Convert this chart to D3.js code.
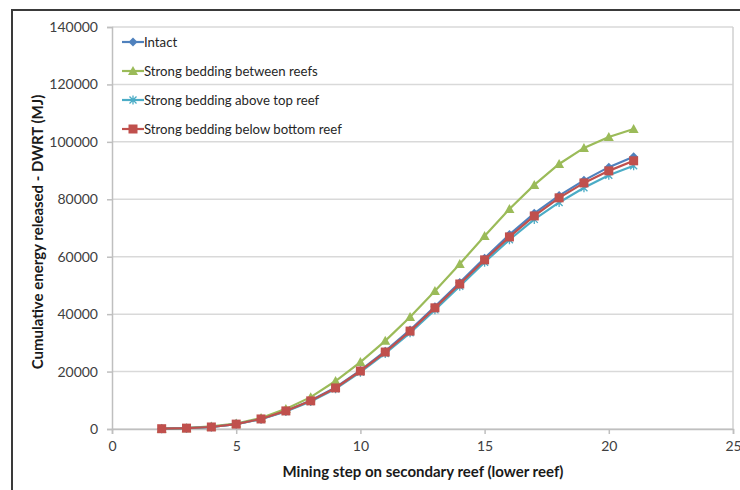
<html>
<head>
  <style>
  body { margin: 0; background: #fff; }
  .tick text { font-family: Lato, "Open Sans", sans-serif; font-size: 14px; fill: #404040; }
  .title { font-family: Lato, "Open Sans", sans-serif; font-size: 15px; font-weight: bold; fill: #1a1a1a; }
  .legend text { font-family: Lato, "Open Sans", sans-serif; font-size: 13.2px; fill: #262626; }
  </style>
  <script src="https://cdn.jsdelivr.net/npm/d3@7"></script>
</head>
<body>
<svg id="chart" width="740" height="490"></svg>
<script>
// mining steps
var steps = [2, 3, 4, 5, 6, 7, 8, 9, 10, 11, 12, 13, 14, 15, 16, 17, 18, 19, 20, 21];
var intact   = [100, 300, 700, 1700, 3500, 6300, 9900, 14500, 20400, 27100, 34500, 42600, 51000, 59500, 67700, 75100, 81300, 86600, 91200, 94800];
var between  = [100, 300, 900, 1900, 3800, 7000, 11100, 16700, 23300, 30700, 39000, 48100, 57500, 67200, 76600, 85000, 92300, 97900, 101700, 104500];
var aboveTop = [100, 300, 700, 1700, 3400, 6100, 9600, 14000, 19800, 26300, 33500, 41500, 49700, 58100, 65900, 73000, 78900, 84000, 88400, 91700];
var belowBot = [100, 300, 700, 1700, 3500, 6300, 9800, 14300, 20200, 26800, 34100, 42200, 50500, 58900, 66900, 74200, 80500, 85700, 89900, 93400];

var seriesNames = ["Intact", "Strong bedding between reefs", "Strong bedding above top reef", "Strong bedding below bottom reef"];
var xTicks = [0, 5, 10, 15, 20, 25];
var yTicks = [0, 20000, 40000, 60000, 80000, 100000, 120000, 140000];

var series = [
  {name: seriesNames[0], values: intact,   color: "#4F81BD", marker: "diamond"},
  {name: seriesNames[1], values: between,  color: "#9BBB59", marker: "triangle"},
  {name: seriesNames[2], values: aboveTop, color: "#4BACC6", marker: "star"},
  {name: seriesNames[3], values: belowBot, color: "#C0504D", marker: "square"}
];

var svg = d3.select("#chart");

// outer frame
svg.append("path").attr("d", "M12,490 L12,10 L740,10")
   .attr("fill", "none").attr("stroke", "#3a3a3a").attr("stroke-width", 2);

var pLeft = 112, pRight = 733, pTop = 27, pBottom = 429;
var x = d3.scaleLinear().domain([0, 25]).range([pLeft, pRight]);
var y = d3.scaleLinear().domain([0, 140000]).range([pBottom, pTop]);

// grid
svg.append("g").selectAll("line").data(yTicks).enter().append("line")
   .attr("x1", pLeft).attr("x2", pRight)
   .attr("y1", function(d) { return y(d); }).attr("y2", function(d) { return y(d); })
   .attr("stroke", "#d9d9d9").attr("stroke-width", 1.5);
// plot area right border
svg.append("line").attr("x1", pRight).attr("x2", pRight).attr("y1", pTop).attr("y2", pBottom)
   .attr("stroke", "#d0d0d0").attr("stroke-width", 1.5);

var xAxis = svg.append("g").attr("transform", "translate(0," + pBottom + ")")
   .call(d3.axisBottom(x).tickValues(xTicks).tickSize(5).tickPadding(7));
var yAxis = svg.append("g").attr("transform", "translate(" + pLeft + ",0)")
   .call(d3.axisLeft(y).tickValues(yTicks).tickFormat(d3.format("d")).tickSize(5).tickPadding(9));
[xAxis, yAxis].forEach(function(a) {
  a.selectAll("path, line").attr("stroke", "#bfbfbf").attr("stroke-width", 1.5);
});

svg.append("text").attr("class", "title")
   .attr("x", 423).attr("y", 477).attr("text-anchor", "middle")
   .text("Mining step on secondary reef (lower reef)");
svg.append("text").attr("class", "title")
   .attr("transform", "translate(43," + 232 + ") rotate(-90)")
   .attr("text-anchor", "middle")
   .text("Cumulative energy released - DWRT (MJ)");

function drawMarker(g, type, color) {
  if (type == "diamond") {
    g.append("path").attr("d", "M0,-4.5L4.5,0L0,4.5L-4.5,0Z").attr("fill", color);
  } else if (type == "triangle") {
    g.append("path").attr("d", "M0,-5L5,4L-5,4Z").attr("fill", color);
  } else if (type == "square") {
    g.append("rect").attr("x", -4.5).attr("y", -4.5).attr("width", 9).attr("height", 9).attr("fill", color);
  } else {
    g.append("path").attr("d", "M-3.5,-3.5L3.5,3.5M-3.5,3.5L3.5,-3.5M0,-4.5L0,4.5")
     .attr("stroke", color).attr("stroke-width", 1.3).attr("fill", "none");
  }
}

var line = d3.line()
  .x(function(d) { return x(d[0]); })
  .y(function(d) { return y(d[1]); });

series.forEach(function(s) {
  var pts = steps.map(function(st, i) { return [st, s.values[i]]; });
  svg.append("path").attr("d", line(pts)).attr("fill", "none")
     .attr("stroke", s.color).attr("stroke-width", 2.2);
  pts.forEach(function(p) {
    var g = svg.append("g").attr("transform", "translate(" + x(p[0]) + "," + y(p[1]) + ")");
    drawMarker(g, s.marker, s.color);
  });
});

// legend
var legend = svg.append("g").attr("class", "legend");
series.forEach(function(s, i) {
  var ly = 42 + i * 29;
  legend.append("line").attr("x1", 122).attr("x2", 144).attr("y1", ly).attr("y2", ly)
        .attr("stroke", s.color).attr("stroke-width", 2.2);
  drawMarker(legend.append("g").attr("transform", "translate(133," + ly + ")"), s.marker, s.color);
  legend.append("text").attr("x", 144).attr("y", ly + 4.5).text(s.name);
});
</script>
</body>
</html>
